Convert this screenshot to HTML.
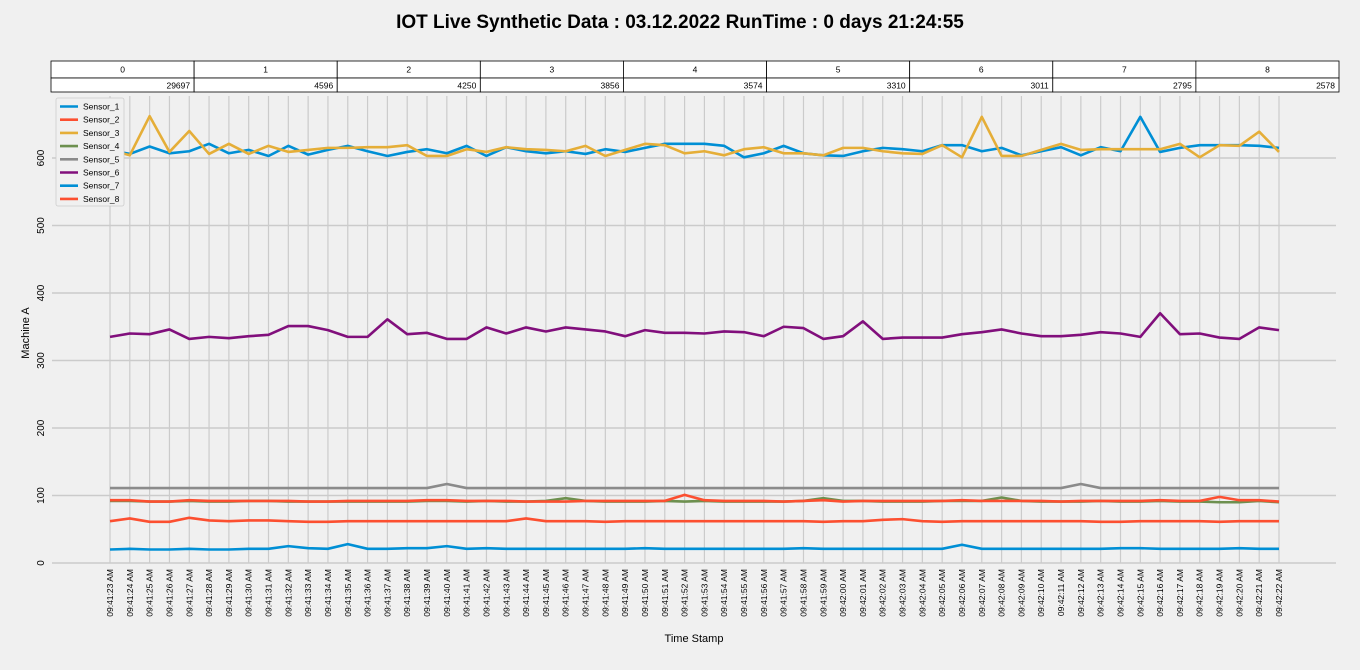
<!DOCTYPE html>
<html><head><meta charset="utf-8"><style>
body{margin:0;background:#f0f0f0;font-family:"Liberation Sans","DejaVu Sans",sans-serif;}
svg text{font-family:"Liberation Sans","DejaVu Sans",sans-serif;}
</style></head><body>
<svg id="chart" width="1360" height="665" xmlns="http://www.w3.org/2000/svg">
<rect width="1360" height="665" fill="#f0f0f0"/>
<text x="680" y="28" text-anchor="middle" font-size="19" font-weight="bold" fill="#000">IOT Live Synthetic Data : 03.12.2022 RunTime : 0 days 21:24:55</text>
<g id="tbl"></g><g id="grid"></g><g id="series"></g><g id="axes"></g><g id="legend"></g>
</svg>
<script>
const times=[];for(let i=0;i<60;i++){const s=23+i;const m=41+Math.floor(s/60);times.push('09:'+m+':'+String(s%60).padStart(2,'0')+' AM');}
const yTicks=[0,100,200,300,400,500,600];
const tableHeaders=['0','1','2','3','4','5','6','7','8'];
const tableValues=['29697','4596','4250','3856','3574','3310','3011','2795','2578'];
const seriesNames=['Sensor_1','Sensor_2','Sensor_3','Sensor_4','Sensor_5','Sensor_6','Sensor_7','Sensor_8'];
const seriesColors=['#008fd5','#fc4f30','#e5ae38','#6d904f','#8b8b8b','#810f7c','#008fd5','#fc4f30'];
const s1=[612,606,617,607,610,621,607,612,603,618,605,612,618,610,603,609,613,607,618,603,616,610,607,610,606,613,609,615,621,621,621,618,601,607,618,607,604,603,610,615,613,610,619,619,610,615,604,610,616,604,616,610,661,609,615,619,619,619,618,615];
const s2=[93,93,91,91,93,92,92,92,92,92,91,91,92,92,92,92,93,93,92,92,92,91,91,91,92,92,92,92,92,101,93,92,92,92,91,92,93,91,92,92,92,92,92,93,92,92,92,92,91,92,92,92,92,93,92,92,98,93,93,91];
const s3=[612,604,662,609,640,606,621,606,618,609,612,615,615,616,616,619,603,603,613,609,616,613,612,610,618,603,612,621,619,607,610,604,613,616,607,607,604,615,615,610,607,606,619,601,661,603,603,612,621,612,613,613,613,613,621,601,619,618,639,609];
const s4=[92,92,91,91,92,91,91,92,92,91,91,91,91,91,91,91,92,92,91,92,91,91,92,96,92,91,91,91,92,91,92,91,91,91,91,92,96,92,92,91,91,91,92,92,92,97,92,91,91,91,92,91,91,92,91,91,90,90,92,90];
const s5=[111,111,111,111,111,111,111,111,111,111,111,111,111,111,111,111,111,117,111,111,111,111,111,111,111,111,111,111,111,111,111,111,111,111,111,111,111,111,111,111,111,111,111,111,111,111,111,111,111,117,111,111,111,111,111,111,111,111,111,111];
const s6=[335,340,339,346,332,335,333,336,338,351,351,345,335,335,361,339,341,332,332,349,340,349,343,349,346,343,336,345,341,341,340,343,342,336,350,348,332,336,358,332,334,334,334,339,342,346,340,336,336,338,342,340,335,370,339,340,334,332,349,345];
const s7=[20,21,20,20,21,20,20,21,21,25,22,21,28,21,21,22,22,25,21,22,21,21,21,21,21,21,21,22,21,21,21,21,21,21,21,22,21,21,21,21,21,21,21,27,21,21,21,21,21,21,21,22,22,21,21,21,21,22,21,21];
const s8=[62,66,61,61,67,63,62,63,63,62,61,61,62,62,62,62,62,62,62,62,62,66,62,62,62,61,62,62,62,62,62,62,62,62,62,62,61,62,62,64,65,62,61,62,62,62,62,62,62,62,61,61,62,62,62,62,61,62,62,62];
const seriesData=[s1,s2,s3,s4,s5,s6,s7,s8];
const drawOrder=[0,2,3,1,4,5,6,7];
const NS='http://www.w3.org/2000/svg';
const L=52,R=1336,T=96,B=563,x0=110,dx=(1279-110)/59;
const X=i=>x0+i*dx, Y=v=>B-v*0.675;
function mk(tag,attrs,parent,txt){const e=document.createElementNS(NS,tag);for(const k in attrs)e.setAttribute(k,attrs[k]);if(txt!==undefined)e.textContent=txt;document.getElementById(parent).appendChild(e);return e;}
const tw=(1339-51)/9;
for(let i=0;i<9;i++){
 const c=mk('rect',{x:51+i*tw,y:61,width:tw,height:17,fill:'#fff',stroke:'#000','stroke-width':0.8},'tbl');
 
 
 const c2=mk('rect',{x:51+i*tw,y:78,width:tw,height:14,fill:'#fff',stroke:'#000','stroke-width':0.8},'tbl');
 
 
 const t=mk('text',{x:51+i*tw+tw/2,y:72.5,'text-anchor':'middle','font-size':8.5},'tbl',tableHeaders[i]);
 
 
 const t2=mk('text',{x:51+(i+1)*tw-4,y:88.5,'text-anchor':'end','font-size':8.5},'tbl',tableValues[i]);
 
 
}
times.forEach((t,i)=>{
 const g=mk('line',{x1:X(i),x2:X(i),y1:T,y2:B,stroke:'#cbcbcb','stroke-width':1.2},'grid');
 
 
 const lb=mk('text',{x:0,y:0,transform:`translate(${X(i)+3},${B+6}) rotate(-90)`,'text-anchor':'end','font-size':8.5},'axes',t);
 
 
});
yTicks.forEach(v=>{
 const g=mk('line',{x1:L,x2:R,y1:Y(v),y2:Y(v),stroke:'#cbcbcb','stroke-width':1.5},'grid');
 
 
 const lb=mk('text',{x:0,y:0,transform:`translate(${44},${Y(v)}) rotate(-90)`,'text-anchor':'middle','font-size':10},'axes',String(v));
 
 
});
const xt=mk('text',{x:(L+R)/2,y:642,'text-anchor':'middle','font-size':11},'axes','Time Stamp');


const yt=mk('text',{x:0,y:0,transform:'translate(29,333) rotate(-90)','text-anchor':'middle','font-size':11},'axes','Machine A');


drawOrder.forEach(k=>{
 const d=seriesData[k];
 const p=mk('polyline',{points:d.map((v,i)=>X(i)+','+Y(v)).join(' '),fill:'none',stroke:seriesColors[k],'stroke-width':2.6,'stroke-linejoin':'round'},'series');
 
 
});
const lg=mk('rect',{x:56,y:98,width:68,height:108,fill:'#f0f0f0',stroke:'#ccc','stroke-width':0.8,rx:2},'legend');


seriesNames.forEach((n,k)=>{
 const y=106.5+k*13.2;
 const l=mk('line',{x1:60,x2:78,y1:y,y2:y,stroke:seriesColors[k],'stroke-width':2.6},'legend');
 
 
 const t=mk('text',{x:83,y:y+3,'font-size':8.5},'legend',n);
 
 
});
</script>
</body></html>
